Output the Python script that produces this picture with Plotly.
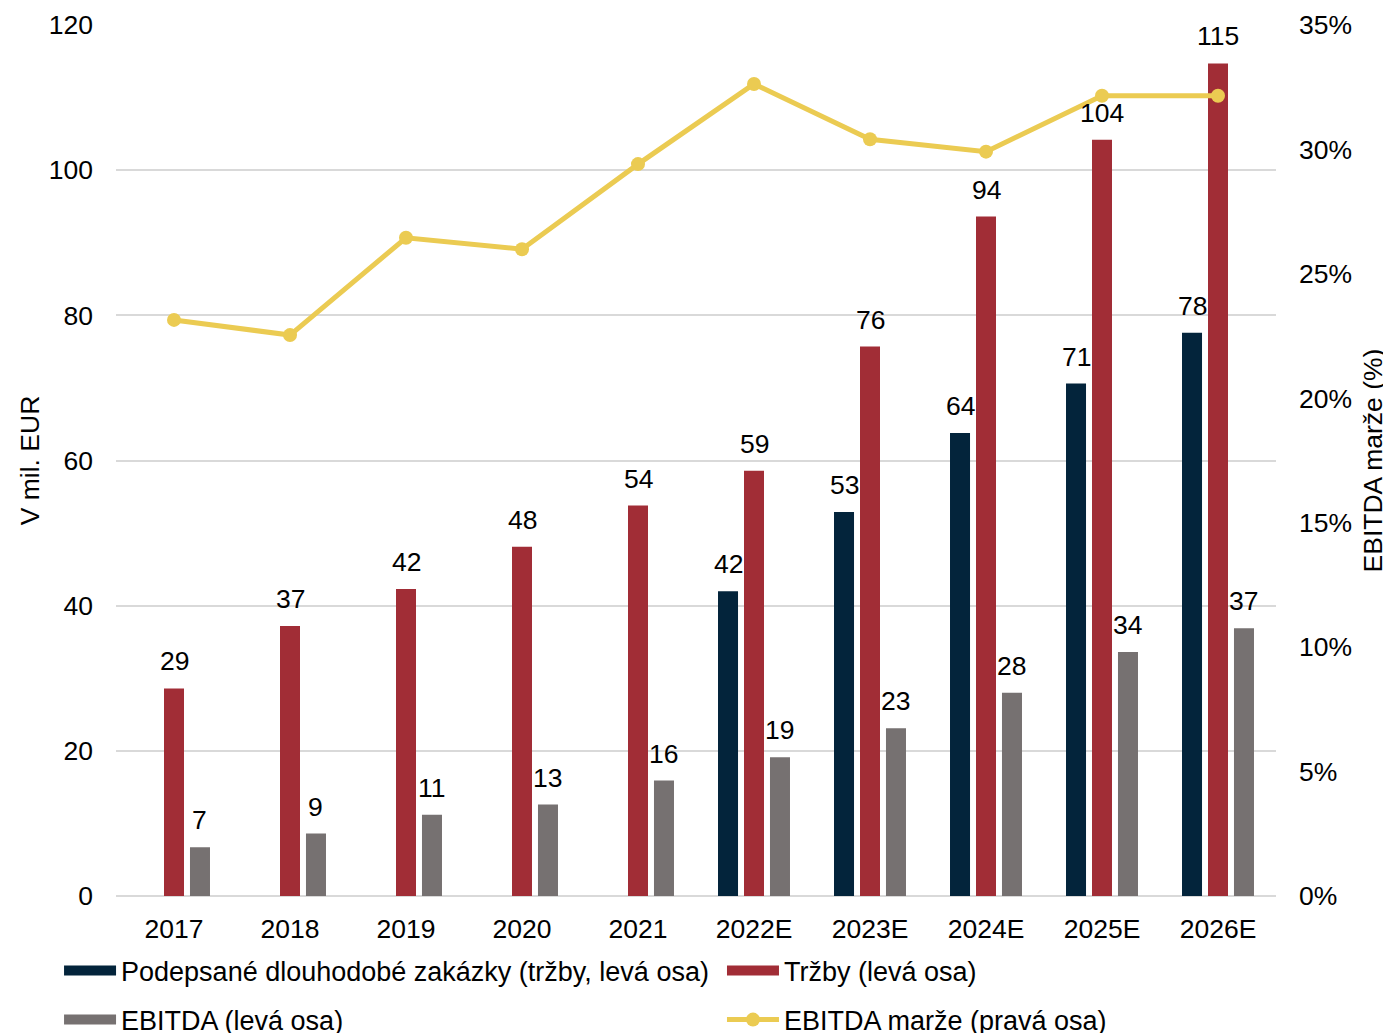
import plotly.graph_objects as go

categories = ["2017", "2018", "2019", "2020", "2021", "2022E", "2023E", "2024E", "2025E", "2026E"]
contracts = [None, None, None, None, None, 42.0, 52.9, 63.8, 70.6, 77.6]
revenue = [28.6, 37.2, 42.3, 48.1, 53.8, 58.6, 75.7, 93.6, 104.2, 114.7]
ebitda = [6.7, 8.6, 11.2, 12.6, 15.9, 19.1, 23.1, 28.0, 33.6, 36.9]
margin = [0.2315, 0.2254, 0.2645, 0.2599, 0.2941, 0.3263, 0.3041, 0.2991, 0.3216, 0.3216]

names = [
    "Podepsané dlouhodobé zakázky (tržby, levá osa)",
    "Tržby (levá osa)",
    "EBITDA (levá osa)",
    "EBITDA marže (pravá osa)",
]
NAVY = "#03243B"
RED = "#A12D36"
GRAY = "#767171"
YELLOW = "#EBCB52"
FONT = "Liberation Sans, Arial, sans-serif"
FS = 26.5
FS_LEG = 27

W, H = 1391, 1033
ML, MR, MT, MB = 108, 123, 17, 145
PLOT_W = W - ML - MR
BARGAP, GROUPGAP = 0.328, 0.23
SLOT = PLOT_W / len(categories) * (1 - BARGAP) / 3

fig = go.Figure()

series = [
    (contracts, names[0], NAVY, "g1"),
    (revenue, names[1], RED, "g2"),
    (ebitda, names[2], GRAY, "g3"),
]
for vals, name, color, grp in series:
    fig.add_trace(go.Bar(
        x=categories, y=vals, name=name, marker_color=color,
        marker_line_width=0, showlegend=False, legendgroup=grp,
    ))

fig.add_trace(go.Scatter(
    x=categories, y=margin, name=names[3], yaxis="y2",
    mode="lines+markers", line=dict(color=YELLOW, width=5),
    marker=dict(size=14, color=YELLOW), cliponaxis=False,
    showlegend=False, legendgroup="g4",
))

# value labels above bars (x given as category index)
for k, (vals, name, color, grp) in enumerate(series):
    for i, v in enumerate(vals):
        if v is None:
            continue
        fig.add_annotation(
            x=i, y=v, xref="x", yref="y", text=str(int(v + 0.5)),
            showarrow=False, xshift=(k - 1) * SLOT, yshift=27,
            yanchor="middle", xanchor="center",
            font=dict(size=FS, color="#000000", family=FONT),
        )

# legend proxies (no data)
legend_items = [
    (names[0], NAVY, "g1", "legend", "lines"),
    (names[1], RED, "g2", "legend2", "lines"),
    (names[2], GRAY, "g3", "legend3", "lines"),
    (names[3], YELLOW, "g4", "legend4", "lines+markers"),
]
for name, color, grp, leg, mode in legend_items:
    fig.add_trace(go.Scatter(
        x=[None], y=[None], name=name, mode=mode,
        line=dict(color=color, width=14 if mode == "lines" else 5),
        marker=dict(size=14, color=color),
        legendgroup=grp, legend=leg,
    ))

legend_common = dict(
    orientation="h", xanchor="left", yanchor="middle",
    font=dict(size=FS_LEG, color="#000000", family=FONT),
    itemwidth=52, bgcolor="rgba(0,0,0,0)", borderwidth=0,
)
col1, col2 = -0.0491, 0.5224
row1, row2 = -0.0861, -0.1424

fig.update_layout(
    width=W, height=H,
    margin=dict(l=ML, r=MR, t=MT, b=MB, autoexpand=False),
    paper_bgcolor="white", plot_bgcolor="white",
    font=dict(family=FONT, size=FS, color="#000000"),
    barmode="group", bargap=BARGAP, bargroupgap=GROUPGAP,
    xaxis=dict(
        type="category", range=[-0.5, len(categories) - 0.5],
        showgrid=False, showline=False, ticks="",
        ticklabelstandoff=14, tickfont=dict(size=FS, color="#000000"),
    ),
    yaxis=dict(
        range=[0, 120], dtick=20, showgrid=True, gridcolor="#D9D9D9",
        gridwidth=1.6, zeroline=True, zerolinecolor="#D9D9D9", zerolinewidth=2,
        showline=False, ticks="", ticklabelstandoff=22,
        tickfont=dict(size=FS, color="#000000"),
        title=dict(text="V mil. EUR", standoff=1, font=dict(size=FS, color="#000000")),
    ),
    yaxis2=dict(
        overlaying="y", side="right", range=[0, 0.35], dtick=0.05,
        tickformat=".0%", showgrid=False, zeroline=False, showline=False,
        ticks="", ticklabelstandoff=22, tickfont=dict(size=FS, color="#000000"),
        title=dict(text="EBITDA marže (%)", standoff=12, font=dict(size=FS, color="#000000")),
    ),
    legend=dict(x=col1, y=row1, **legend_common),
    legend2=dict(x=col2, y=row1, **legend_common),
    legend3=dict(x=col1, y=row2, **legend_common),
    legend4=dict(x=col2, y=row2, **legend_common),
)

fig.write_html("out.html")
